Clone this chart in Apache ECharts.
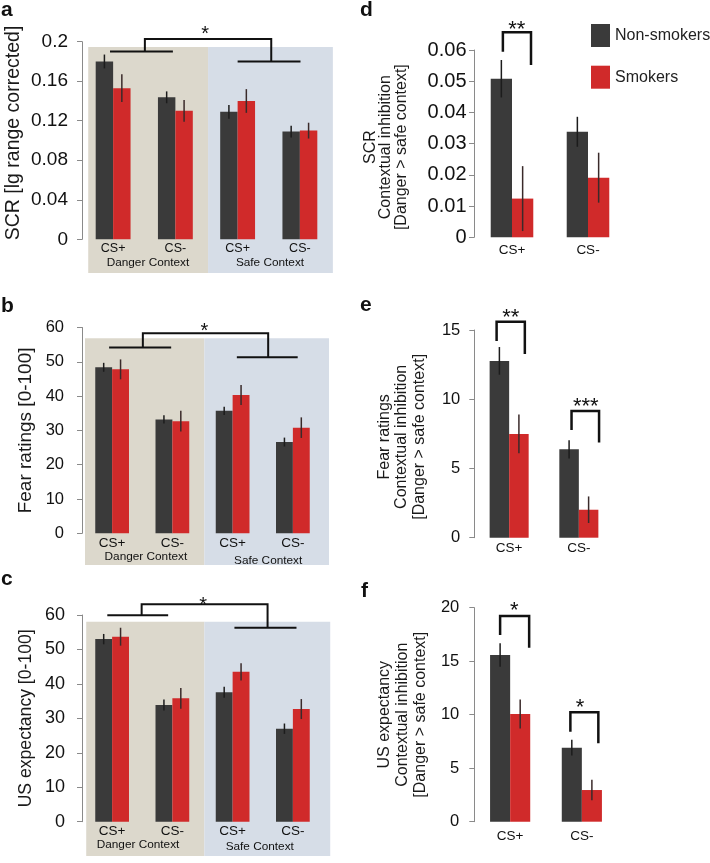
<!DOCTYPE html>
<html><head><meta charset="utf-8">
<script src="https://cdn.jsdelivr.net/npm/echarts@6.0.0/dist/echarts.min.js"></script>
<style>html,body{margin:0;padding:0;background:#fff}#c{width:710px;height:863px}</style>
</head><body><div id="c"></div>
<script>
// ---------- DATA ----------
const mainCats = ['CS+', 'CS-', 'CS+', 'CS-'];
const diffCats = ['CS+', 'CS-'];
const contextNames = ['Danger Context', 'Safe Context'];
const groupNames = ['Non-smokers', 'Smokers'];

// a: SCR
const scrNon = [0.180, 0.1437, 0.129, 0.109];
const scrNonErr = [0.007, 0.006, 0.007, 0.006];
const scrSmk = [0.153, 0.130, 0.140, 0.110];
const scrSmkErr = [0.014, 0.011, 0.012, 0.008];
// b: Fear ratings
const fearNon = [48.4, 33.2, 35.7, 26.6];
const fearNonErr = [1.3, 1.2, 1.2, 1.3];
const fearSmk = [47.8, 32.7, 40.3, 30.8];
const fearSmkErr = [2.9, 3.0, 2.9, 3.0];
// c: US expectancy
const usNon = [53.0, 33.9, 37.6, 27.0];
const usNonErr = [1.5, 1.6, 1.6, 1.5];
const usSmk = [53.7, 35.8, 43.5, 32.7];
const usSmkErr = [2.6, 3.0, 2.5, 2.9];
// d: SCR contextual inhibition
const scrDiffNon = [0.0508, 0.0338];
const scrDiffNonErr = [0.006, 0.0048];
const scrDiffSmk = [0.0124, 0.0191];
const scrDiffSmkErr = [0.0104, 0.008];
// e: Fear contextual inhibition
const fearDiffNon = [12.77, 6.38];
const fearDiffNonErr = [1.0, 0.66];
const fearDiffSmk = [7.49, 2.02];
const fearDiffSmkErr = [1.4, 0.96];
// f: US expectancy contextual inhibition
const usDiffNon = [15.58, 6.92];
const usDiffNonErr = [1.1, 0.73];
const usDiffSmk = [10.07, 2.96];
const usDiffSmkErr = [1.35, 0.95];

// significance labels
const mainSig = ['*', '*', '*'];
const scrDiffSig = ['**'];
const fearDiffSig = ['**', '***'];
const usDiffSig = ['*', '*'];

// ---------- STYLE / LAYOUT ----------
const FONT = '"Liberation Sans", Arial, Helvetica, sans-serif';
const DARK = '#3a3a3a', RED = '#d02a2a';
const BG_DANGER = '#dcd8cc', BG_SAFE = '#d6dde7';
const AXIS = '#8a8a8a';
const BAR_FRAC = 0.28;

const panels = [
  { letter:'a', lpos:[1,0], grid:[82,41.7,249,197.6], max:0.2, step:0.04, cats:mainCats,
    non:scrNon, nonErr:scrNonErr, smk:scrSmk, smkErr:scrSmkErr,
    name:'SCR [lg range corrected]', nameSize:19.5, nameGap:58, namePad:[0,0,0,15], lh:20,
    tickSize:19, tickMargin:14, xSize:12.5, xMargin:3,
    bg:{x:[-0.40,1.525,3.53], y:[0.1947,-0.0341], labels:[[0.56,-0.024],[2.52,-0.024]]},
    main:{l:[-0.05,0.96,0.19], r:[2.0,3.01,0.18], vx:[0.51,2.54], top:0.2027, star:[1.48,0.2078], sig:mainSig[0]} },
  { letter:'b', lpos:[1,295.5], grid:[82,327.5,241,205.8], max:60, step:10, cats:mainCats,
    non:fearNon, nonErr:fearNonErr, smk:fearSmk, smkErr:fearSmkErr,
    name:'Fear ratings [0-100]', nameSize:19, nameGap:46.5, namePad:[0,0,0,0], lh:19,
    tickSize:16.5, tickMargin:18, xSize:13.5, xMargin:3,
    bg:{x:[-0.45,1.53,3.6], y:[56.9,-9.24], labels:[[0.56,-6.8],[2.59,-8.1]]},
    main:{l:[-0.05,0.98,54.2], r:[2.07,3.08,51.3], vx:[0.51,2.59], top:58.3, star:[1.53,58.8], sig:mainSig[1]} },
  { letter:'c', lpos:[1,569], grid:[82,615,241,206.7], max:60, step:10, cats:mainCats,
    non:usNon, nonErr:usNonErr, smk:usSmk, smkErr:usSmkErr,
    name:'US expectancy [0-100]', nameSize:17.6, nameGap:47, namePad:[0,0,0,0], lh:18,
    tickSize:18, tickMargin:17, xSize:13.5, xMargin:2.5,
    bg:{x:[-0.43,1.53,3.62], y:[58.05,-9.96], labels:[[0.43,-6.76],[2.45,-7.26]]},
    main:{l:[-0.08,0.93,59.9], r:[2.03,3.06,56.3], vx:[0.49,2.58], top:63.1, star:[1.51,62.7], sig:mainSig[2]} },
  { letter:'d', lpos:[360,0], grid:[474,50,152,187.3], max:0.06, step:0.01, cats:diffCats,
    non:scrDiffNon, nonErr:scrDiffNonErr, smk:scrDiffSmk, smkErr:scrDiffSmkErr,
    name:'SCR\nContextual inhibition\n[Danger > safe context]', nameSize:16, nameGap:65, namePad:[0,7,0,0], lh:15.5,
    tickSize:20, tickMargin:7.5, xSize:13.5, xMargin:6,
    pairs:[{x0:-0.12, x1:0.25, yL:0.0594, yR:0.0552, top:0.0657, star:[0.062,0.0664], sig:scrDiffSig[0]}] },
  { letter:'e', lpos:[360,294.5], grid:[474.3,330,139.4,207.7], max:15, step:5, cats:diffCats,
    non:fearDiffNon, nonErr:fearDiffNonErr, smk:fearDiffSmk, smkErr:fearDiffSmkErr,
    name:'Fear ratings\nContextual inhibition\n[Danger > safe context]', nameSize:16, nameGap:46, namePad:[0,6,0,0], lh:17.5,
    tickSize:16.5, tickMargin:14, xSize:13.5, xMargin:4,
    pairs:[{x0:-0.18, x1:0.225, yL:14.2, yR:13.27, top:15.6, star:[0.024,15.85], sig:fearDiffSig[0]},
           {x0:0.895, x1:1.29, yL:7.78, yR:6.87, top:9.15, star:[1.10,9.47], sig:fearDiffSig[1]}] },
  { letter:'f', lpos:[361,580.5], grid:[474.3,607.7,143.4,214], max:20, step:5, cats:diffCats,
    non:usDiffNon, nonErr:usDiffNonErr, smk:usDiffSmk, smkErr:usDiffSmkErr,
    name:'US expectancy\nContextual inhibition\n[Danger > safe context]', nameSize:16, nameGap:45, namePad:[0,0,0,0], lh:18,
    tickSize:16.5, tickMargin:15, xSize:13.5, xMargin:8,
    pairs:[{x0:-0.14, x1:0.265, yL:17.45, yR:16.26, top:19.22, star:[0.056,19.69], sig:usDiffSig[0]},
           {x0:0.84, x1:1.23, yL:8.41, yR:7.33, top:10.22, star:[0.976,10.65], sig:usDiffSig[1]}] }
];

// ---------- OPTION ----------
const option = {
  backgroundColor:'#fff', animation:false, textStyle:{fontFamily:FONT},
  title:[], grid:[], xAxis:[], yAxis:[], series:[],
  legend:{ data:groupNames, orient:'vertical', left:591, top:24, itemWidth:19, itemHeight:23, itemGap:18.7,
    icon:'rect', selectedMode:false, padding:0,
    textStyle:{fontSize:16, color:'#222', fontFamily:FONT} }
};

function txt(text, x, y, size) {
  return {type:'text', x, y, style:{text, fontSize:size, fontFamily:FONT, fill:'#111',
    align:'center', verticalAlign:'middle', textAlign:'center', textVerticalAlign:'middle'}};
}

panels.forEach((p, k) => {
  const cx = 2*k, vx = 2*k + 1;
  option.title.push({text:p.letter, left:p.lpos[0], top:p.lpos[1], padding:0,
    textStyle:{fontSize:21, fontWeight:'bold', color:'#111', fontFamily:FONT}});
  option.grid.push({left:p.grid[0], top:p.grid[1], width:p.grid[2], height:p.grid[3]});
  option.xAxis.push({type:'category', gridIndex:k, data:p.cats,
    axisLine:{show:false, onZero:false}, axisTick:{show:false},
    axisLabel:{fontSize:p.xSize, color:'#111', margin:p.xMargin, interval:0, fontFamily:FONT}});
  option.xAxis.push({type:'value', gridIndex:k, min:-0.5, max:p.cats.length - 0.5, show:false,
    axisLine:{show:false, onZero:false}});
  option.yAxis.push({type:'value', gridIndex:k, min:0, max:p.max, interval:p.step,
    axisLine:{show:true, onZero:false, lineStyle:{color:AXIS, width:1}},
    axisTick:{show:true, length:5, lineStyle:{color:AXIS, width:1}},
    splitLine:{show:false},
    axisLabel:{fontSize:p.tickSize, color:'#111', margin:p.tickMargin, fontFamily:FONT},
    name:p.name, nameLocation:'middle', nameGap:p.nameGap, nameRotate:90,
    nameTextStyle:{fontSize:p.nameSize, color:'#1a1a1a', lineHeight:p.lh, padding:p.namePad, fontFamily:FONT}});

  if (p.bg) {
    const b = p.bg;
    option.series.push({type:'custom', coordinateSystem:'cartesian2d', xAxisIndex:vx, yAxisIndex:k,
      silent:true, z:-1, clip:false, data:[[0,0]],
      renderItem(params, api) {
        const a0 = api.coord([b.x[0], b.y[0]]), a1 = api.coord([b.x[1], b.y[1]]), a2 = api.coord([b.x[2], b.y[1]]);
        const ch = [
          {type:'rect', shape:{x:a0[0], y:a0[1], width:a1[0]-a0[0], height:a1[1]-a0[1]}, style:{fill:BG_DANGER}},
          {type:'rect', shape:{x:a1[0], y:a0[1], width:a2[0]-a1[0], height:a1[1]-a0[1]}, style:{fill:BG_SAFE}}
        ];
        b.labels.forEach((l, j) => { const q = api.coord(l); ch.push(txt(contextNames[j], q[0], q[1], 11.8)); });
        return {type:'group', children:ch};
      }});
  }

  option.series.push({type:'bar', name:groupNames[0], xAxisIndex:cx, yAxisIndex:k, data:p.non,
    barWidth:(BAR_FRAC*100)+'%', barGap:'0%', itemStyle:{color:DARK}, silent:true, z:2});
  option.series.push({type:'bar', name:groupNames[1], xAxisIndex:cx, yAxisIndex:k, data:p.smk,
    barWidth:(BAR_FRAC*100)+'%', barGap:'0%', itemStyle:{color:RED}, silent:true, z:2});

  [[p.non, p.nonErr, -1, '#1c1c1c'], [p.smk, p.smkErr, 1, '#3a2a2a']].forEach(([vals, errs, sign, col]) => {
    option.series.push({type:'custom', coordinateSystem:'cartesian2d', xAxisIndex:cx, yAxisIndex:k,
      silent:true, z:4, data:vals.map((v, i) => [i, v, errs[i]]), encode:{x:0, y:1},
      renderItem(params, api) {
        const i = api.value(0), v = api.value(1), e = api.value(2);
        const half = api.size([1, 0])[0] * BAR_FRAC / 2;
        const lo = api.coord([i, v - e]), hi = api.coord([i, v + e]);
        const x = lo[0] + sign * half;
        return {type:'line', shape:{x1:x, y1:lo[1], x2:x, y2:hi[1]}, style:{stroke:col, lineWidth:1.5}};
      }});
  });

  if (p.main) {
    const m = p.main;
    option.series.push({type:'custom', coordinateSystem:'cartesian2d', xAxisIndex:vx, yAxisIndex:k,
      silent:true, z:5, clip:false, data:[[0,0]],
      renderItem(params, api) {
        const P = (x, y) => api.coord([x, y]);
        const st = {stroke:'#111', lineWidth:2, fill:null};
        const l0 = P(m.l[0], m.l[2]), l1 = P(m.l[1], m.l[2]);
        const r0 = P(m.r[0], m.r[2]), r1 = P(m.r[1], m.r[2]);
        const s = P(m.star[0], m.star[1]);
        return {type:'group', children:[
          {type:'line', shape:{x1:l0[0], y1:l0[1], x2:l1[0], y2:l1[1]}, style:st},
          {type:'line', shape:{x1:r0[0], y1:r0[1], x2:r1[0], y2:r1[1]}, style:st},
          {type:'polyline', shape:{points:[P(m.vx[0], m.l[2]), P(m.vx[0], m.top), P(m.vx[1], m.top), P(m.vx[1], m.r[2])]}, style:st},
          txt(m.sig, s[0], s[1], 20)
        ]};
      }});
  }
  if (p.pairs) {
    p.pairs.forEach(pr => {
      option.series.push({type:'custom', coordinateSystem:'cartesian2d', xAxisIndex:vx, yAxisIndex:k,
        silent:true, z:5, clip:false, data:[[0,0]],
        renderItem(params, api) {
          const P = (x, y) => api.coord([x, y]);
          const s = P(pr.star[0], pr.star[1]);
          return {type:'group', children:[
            {type:'polyline', shape:{points:[P(pr.x0, pr.yL), P(pr.x0, pr.top), P(pr.x1, pr.top), P(pr.x1, pr.yR)]},
              style:{stroke:'#111', lineWidth:2.5, fill:null}},
            txt(pr.sig, s[0], s[1], 22)
          ]};
        }});
    });
  }
});

const chart = echarts.init(document.getElementById('c'), null, {renderer:'canvas'});
chart.setOption(option);
</script></body></html>
